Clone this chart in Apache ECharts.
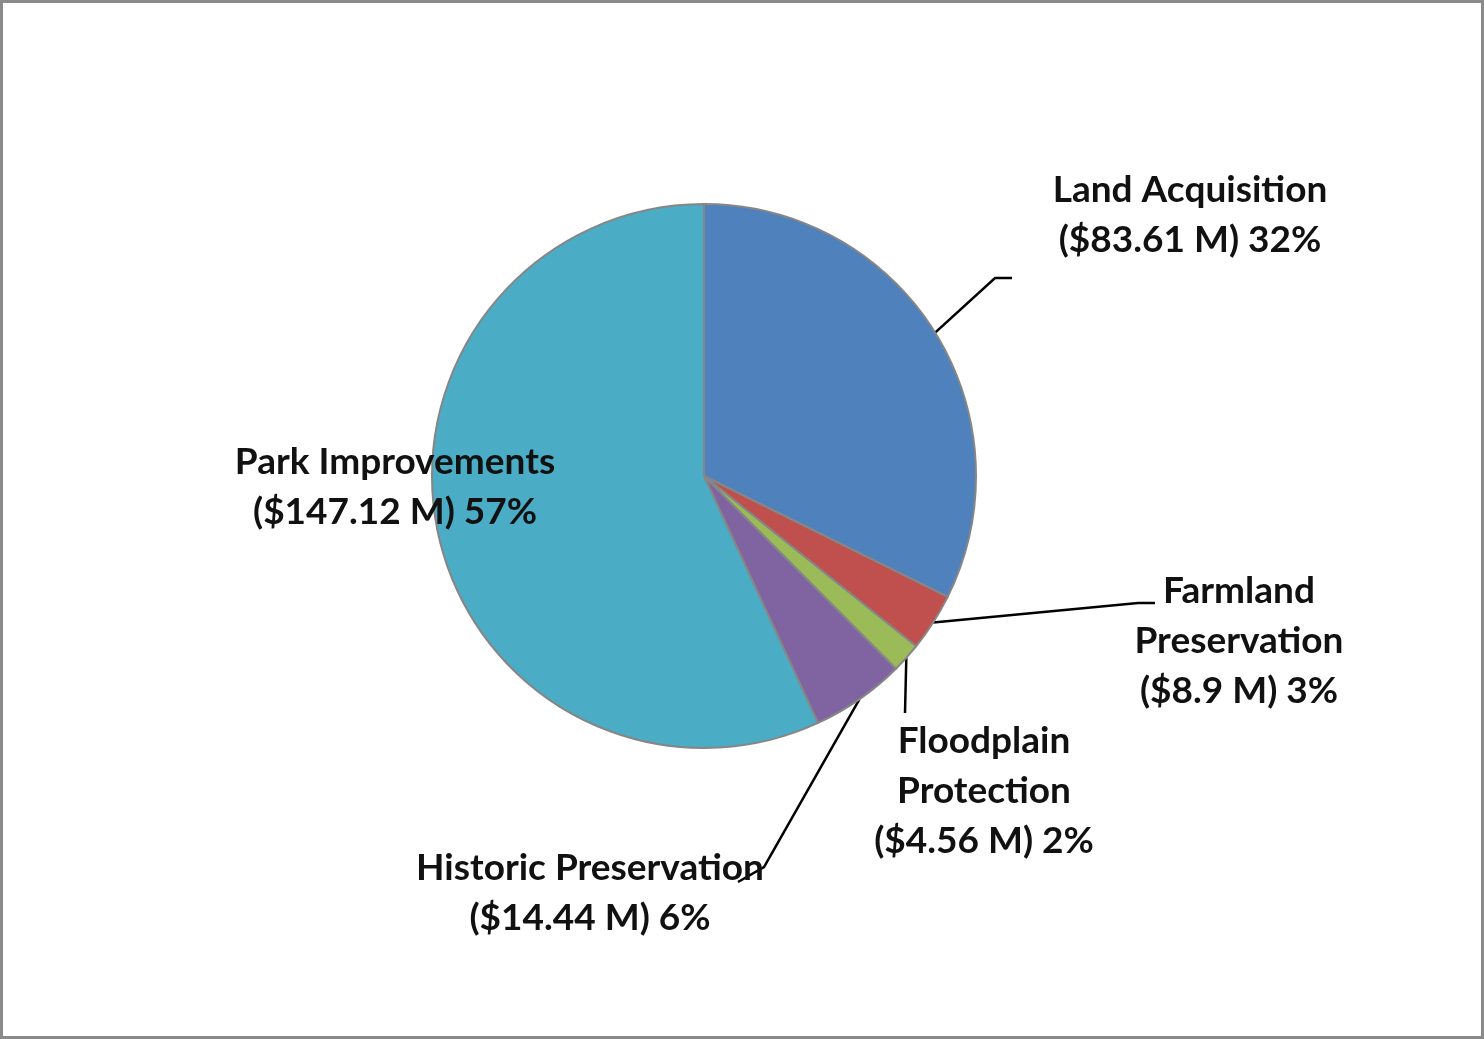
<!DOCTYPE html>
<html>
<head>
<meta charset="utf-8">
<title>Funding by program</title>
<script src="https://cdn.jsdelivr.net/npm/echarts@6/dist/echarts.min.js"></script>
<style>
  html, body { margin: 0; padding: 0; background: #fff; }
  #chart { width: 1484px; height: 1039px; }
</style>
</head>
<body>
<div id="chart"></div>
<script>
// data ($ millions), clockwise from 12 o'clock
const categories = ['Land Acquisition', 'Farmland\nPreservation', 'Floodplain\nProtection', 'Historic Preservation', 'Park Improvements']
const amounts = [83.61, 8.9, 4.56, 14.44, 147.12]
const colors = ['#4F81BD', '#C0504D', '#9BBB59', '#8064A2', '#4BACC6']

// where each label sits (center x, middle y) and the bend / end of its leader line
const labelPos = [
  { x: 1190, y: 215, bend: [995, 278], end: [1012, 278] },
  { x: 1239, y: 641, bend: [1138, 603], end: [1155, 603] },
  { x: 984, y: 791, bend: [905, 713], end: [905, 713] },
  { x: 590, y: 893, bend: [764, 867], end: [738, 882] },
  { x: 395, y: 487, bend: null, end: null }
]

const chart = echarts.init(document.getElementById('chart'))

chart.setOption({
  animation: false,
  backgroundColor: '#fff',
  graphic: [
    {
      type: 'rect',
      shape: { x: 1.5, y: 1.5, width: 1481, height: 1036 },
      style: { fill: 'none', stroke: '#8a8a8a', lineWidth: 3 },
      z: 100
    }
  ],
  series: [
    {
      type: 'pie',
      center: [704, 476],
      radius: [0, 272],
      startAngle: 90,
      clockwise: true,
      percentPrecision: 0,
      avoidLabelOverlap: false,
      emphasis: { disabled: true },
      itemStyle: { borderColor: '#868686', borderWidth: 2 },
      label: {
        show: true,
        formatter: '{b}\n(${c} M) {d}%',
        fontFamily: 'Lato',
        fontWeight: 'bold',
        fontSize: 37,
        lineHeight: 50,
        color: '#111',
        align: 'center'
      },
      labelLine: {
        show: true,
        smooth: false,
        lineStyle: { color: '#000', width: 2.5 }
      },
      labelLayout: function (params) {
        const p = labelPos[params.dataIndex]
        const out = { x: p.x, y: p.y, align: 'center', verticalAlign: 'middle' }
        if (p.bend && params.labelLinePoints) {
          out.labelLinePoints = [params.labelLinePoints[0], p.bend, p.end]
        }
        return out
      },
      data: categories.map((name, i) => ({
        name: name,
        value: amounts[i],
        itemStyle: { color: colors[i] },
        labelLine: { show: i !== 4 }
      }))
    }
  ]
})
</script>
</body>
</html>
